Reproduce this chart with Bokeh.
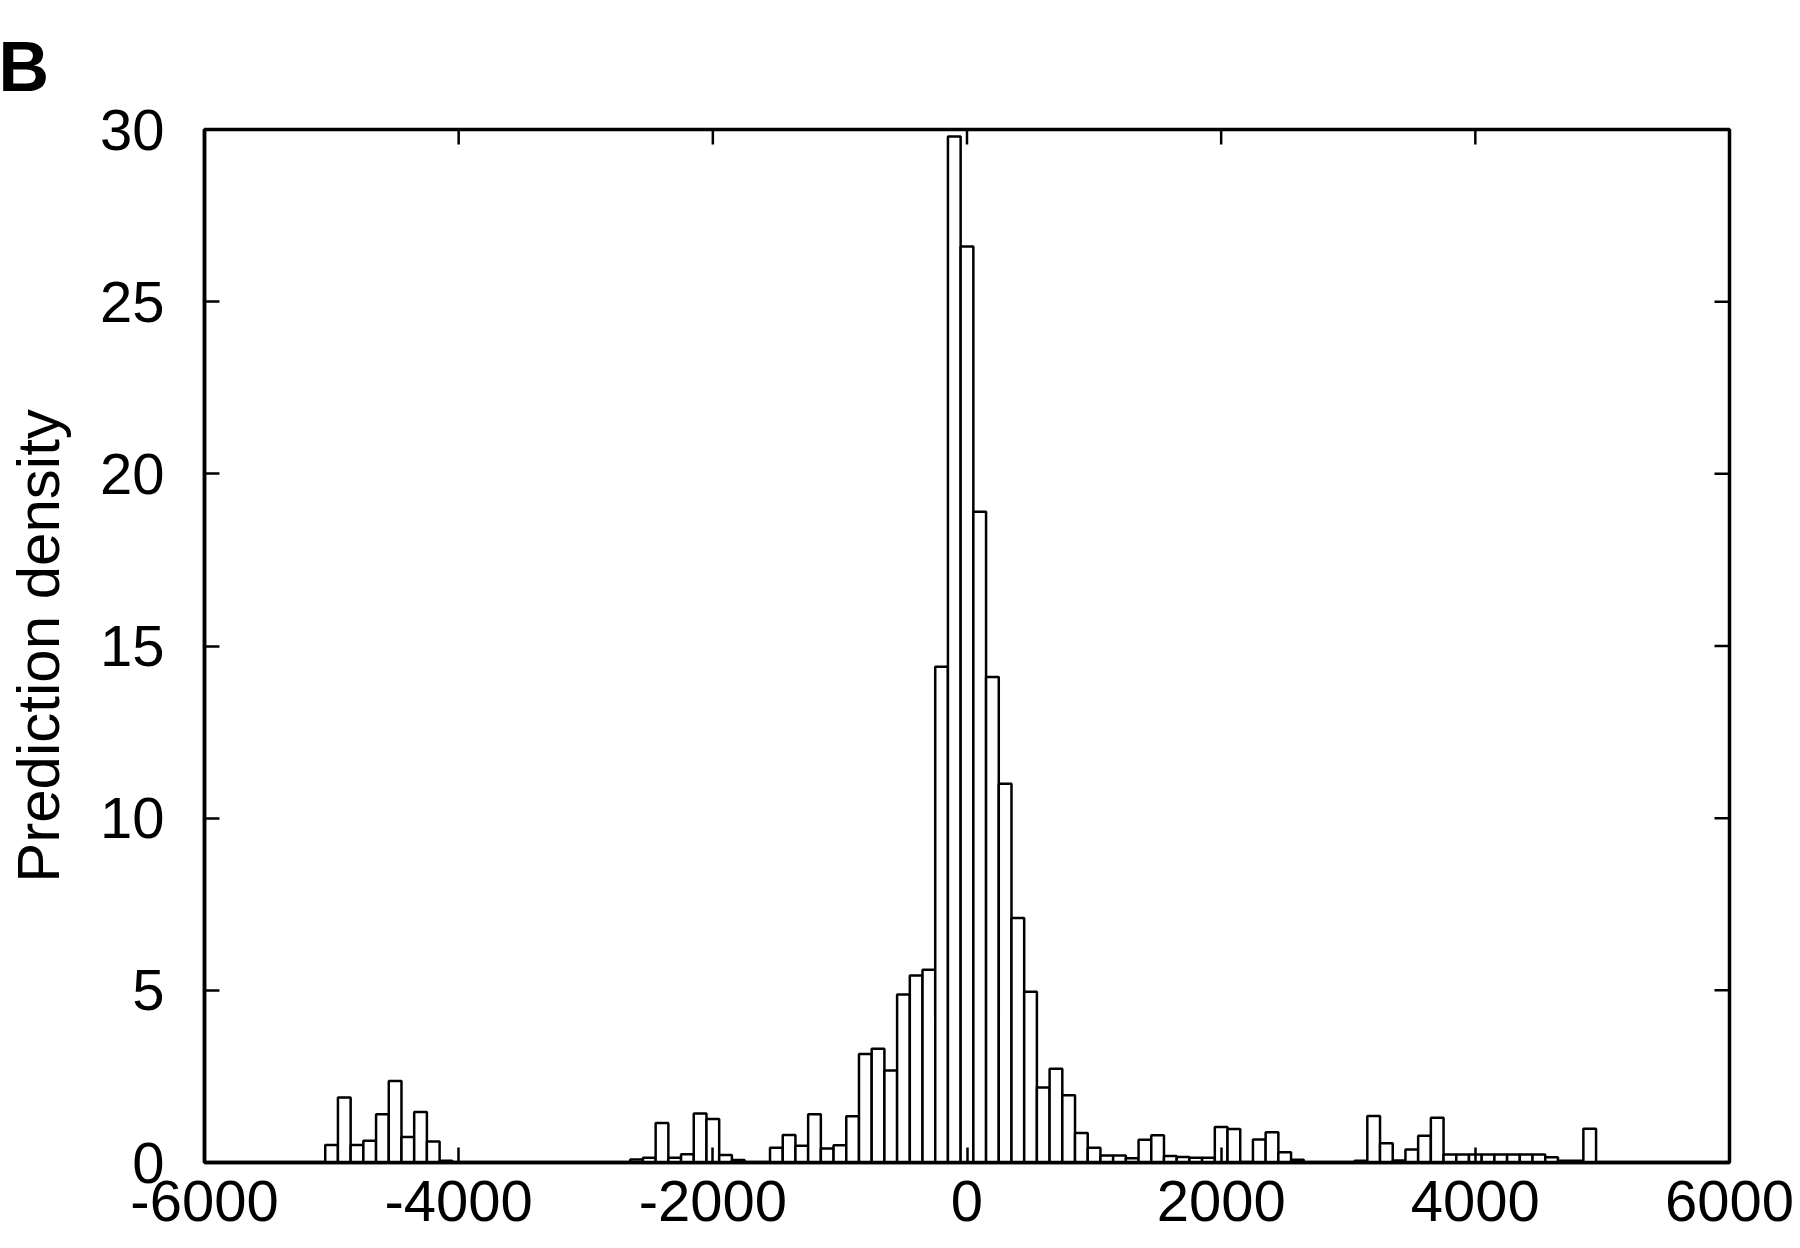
import numpy as np
from bokeh.plotting import figure
from bokeh.models import Range1d, LinearAxis, FixedTicker, Title, ColumnDataSource
from bokeh.embed import file_html
from bokeh.resources import INLINE

# ---- data ----
bin_centers = [
    -5000, -4900, -4800, -4700, -4600, -4500, -4400, -4300, -4200, -4100,
    -2600, -2500, -2400, -2300, -2200, -2100, -2000, -1900, -1800,
    -1500, -1400, -1300, -1200, -1100, -1000, -900, -800, -700, -600,
    -500, -400, -300, -200, -100, 0, 100, 200, 300, 400, 500, 600,
    700, 800, 900, 1000, 1100, 1200, 1300, 1400, 1500, 1600, 1700,
    1800, 1900, 2000, 2100, 2300, 2400, 2500, 2600,
    3100, 3200, 3300, 3400, 3500, 3600, 3700, 3800, 3900, 4000,
    4100, 4200, 4300, 4400, 4500, 4600, 4700, 4800, 4900,
]
density = [
    0.51, 1.89, 0.51, 0.63, 1.40, 2.37, 0.74, 1.47, 0.61, 0.05,
    0.09, 0.14, 1.15, 0.14, 0.24, 1.42, 1.26, 0.22, 0.07,
    0.43, 0.80, 0.49, 1.40, 0.41, 0.50, 1.34, 3.15, 3.30, 2.67,
    4.88, 5.43, 5.60, 14.4, 29.8, 26.6, 18.9, 14.1, 11.0, 7.1, 4.96, 2.18,
    2.72, 1.95, 0.86, 0.43, 0.20, 0.20, 0.12, 0.66, 0.79, 0.19, 0.16,
    0.14, 0.14, 1.03, 0.97, 0.67, 0.88, 0.30, 0.08,
    0.05, 1.35, 0.56, 0.06, 0.38, 0.78, 1.30, 0.23, 0.23, 0.23,
    0.23, 0.23, 0.23, 0.23, 0.23, 0.15, 0.05, 0.05, 0.98,
]
bin_width = 100
x_ticks = [-6000, -4000, -2000, 0, 2000, 4000, 6000]
y_ticks = [0, 5, 10, 15, 20, 25, 30]
y_title = "Prediction density"
panel_letter = "B"

# ---- figure ----
W, H = 1800, 1248
B_LEFT, B_RIGHT, B_TOP, B_BOTTOM = 204, 71, 129, 86
FONT = "Liberation Sans"
TICK_SIZE = "58px"
X0, X1, Y0, Y1 = -6000, 6000, 0, 30

p = figure(width=W, height=H, output_backend="svg", toolbar_location=None,
           x_range=Range1d(X0, X1), y_range=Range1d(Y0, Y1),
           x_axis_location=None, y_axis_location=None,
           min_border_left=B_LEFT, min_border_right=B_RIGHT,
           min_border_top=B_TOP, min_border_bottom=B_BOTTOM)
p.grid.grid_line_color = None
p.outline_line_color = "black"
p.outline_line_width = 3.5
p.background_fill_color = "white"
p.border_fill_color = "white"

src = ColumnDataSource(dict(x=bin_centers, top=density))
p.vbar(x="x", top="top", bottom=0, width=bin_width, source=src,
       fill_color="white", line_color="black", line_width=2.5)

TICK_LEN = 15


def make_axis(ticks):
    ax = LinearAxis(ticker=FixedTicker(ticks=ticks, minor_ticks=[]))
    ax.axis_line_color = "black"
    ax.axis_line_width = 3.5
    ax.major_tick_in = TICK_LEN
    ax.major_tick_out = 0
    ax.major_tick_line_width = 2.5
    ax.major_tick_line_color = "black"
    ax.minor_tick_line_color = None
    ax.major_label_text_font = FONT
    ax.major_label_text_font_size = TICK_SIZE
    ax.major_label_text_color = "black"
    ax.major_label_overrides = {t: str(t) for t in ticks}
    return ax


bx = make_axis(x_ticks)
bx.major_label_standoff = 18
p.add_layout(bx, "below")

ly = make_axis(y_ticks)
ly.major_label_standoff = 40
ly.axis_label = y_title
ly.axis_label_text_font = FONT
ly.axis_label_text_font_size = "60px"
ly.axis_label_text_font_style = "normal"
ly.axis_label_text_color = "black"
ly.axis_label_standoff = 25
p.add_layout(ly, "left")

# mirrored inward ticks on the top and right edges of the frame
frame_w = W - B_LEFT - B_RIGHT
frame_h = H - B_TOP - B_BOTTOM
dy = TICK_LEN * (Y1 - Y0) / frame_h
dx = TICK_LEN * (X1 - X0) / frame_w
p.segment(x0=x_ticks, x1=x_ticks, y0=[Y1] * len(x_ticks), y1=[Y1 - dy] * len(x_ticks),
          line_color="black", line_width=2.5)
p.segment(x0=[X1] * len(y_ticks), x1=[X1 - dx] * len(y_ticks), y0=y_ticks, y1=y_ticks,
          line_color="black", line_width=2.5)

# panel letter
title = Title(text=panel_letter, align="left", offset=-(B_LEFT + 2),
              text_font=FONT, text_font_style="bold", text_font_size="70px",
              text_color="black", vertical_align="top", standoff=44)
p.add_layout(title, "above")

open("out.html", "w").write(file_html(p, INLINE))
